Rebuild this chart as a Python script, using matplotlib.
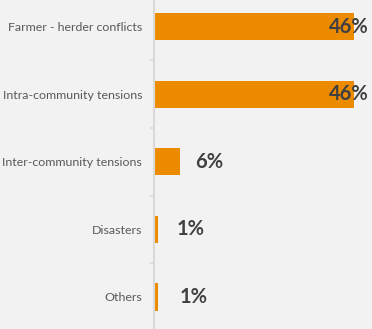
import matplotlib
matplotlib.use("Agg")
import matplotlib.pyplot as plt
from matplotlib.ticker import FixedLocator

categories = ["Farmer - herder conflicts", "Intra-community tensions",
              "Inter-community tensions", "Disasters", "Others"]
values = [46, 46, 6, 1, 1]
labels = ["46%", "46%", "6%", "1%", "1%"]

BG = "#f2f2f2"
BAR = "#ed8b00"

fig = plt.figure(figsize=(3.72, 3.29), dpi=100, facecolor=BG)
W, H = 372, 329
ax = fig.add_axes([154 / W, 0, (200 / 46 * 50) / W, 1], facecolor=BG)

y = list(range(len(categories)))
ax.barh(y, values, height=0.4, color=BAR)

ax.set_xlim(0, 50)
top = -26.5 / 67.6
bot = 4 + (329 - 297) / 67.6
ax.set_ylim(bot, top)

for s in ["top", "right", "bottom"]:
    ax.spines[s].set_visible(False)
ax.spines["left"].set_color("#d9d9d9")
ax.spines["left"].set_linewidth(1.5)
ax.set_xticks([])
ax.set_yticks(y)
ax.set_yticklabels(categories, fontsize=8.9, color="#595959", family="Lato")
ax.tick_params(axis="y", which="major", length=0, pad=8.5)
ax.yaxis.set_minor_locator(FixedLocator([0.5, 1.5, 2.5, 3.5]))
ax.tick_params(axis="y", which="minor", length=3, color="#d9d9d9", width=1.2)

offsets_px = [-25, -25, 15, 18, 21]
for yi, v, lab, off in zip(y, values, labels, offsets_px):
    ax.annotate(lab, xy=(v, yi), xytext=(off * 0.72, 0), textcoords="offset points",
                ha="left", va="center", fontsize=14.5, fontweight="bold",
                color="#404040", family="Lato", annotation_clip=False)

fig.savefig("out.png", dpi=100, facecolor=BG)
